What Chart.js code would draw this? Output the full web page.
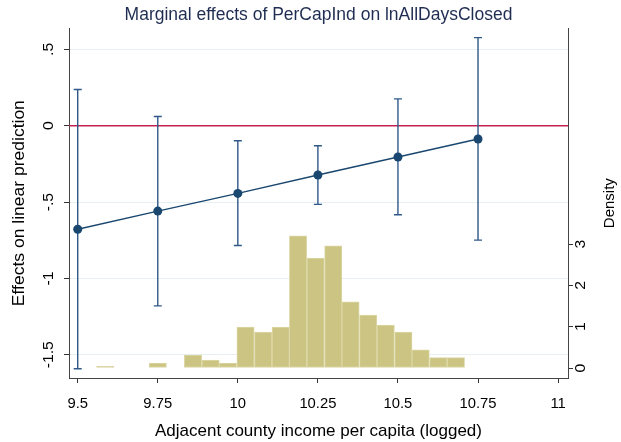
<!DOCTYPE html>
<html>
<head>
<meta charset="utf-8">
<title>Marginal effects of PerCapInd on lnAllDaysClosed</title>
<script src="https://cdn.jsdelivr.net/npm/chart.js@4.4.1/dist/chart.umd.min.js"></script>
<style>
  body { margin: 0; background: #fff; }
</style>
</head>
<body>
<canvas id="graphCanvas" width="621" height="442"></canvas>
<script>
// margins at each income level
var xVals = [9.5, 9.75, 10, 10.25, 10.5, 10.75];
var effects = [-0.678, -0.559, -0.443, -0.323, -0.205, -0.087];
var ciLow = [-1.591, -1.180, -0.784, -0.515, -0.583, -0.749];
var ciHigh = [0.237, 0.060, -0.098, -0.131, 0.176, 0.577];

// histogram of adjacent county income (density, right axis)
var histX = [9.586, 9.750, 9.860, 9.915, 9.969, 10.024, 10.079, 10.134, 10.188,
             10.243, 10.298, 10.352, 10.407, 10.462, 10.517, 10.571, 10.626, 10.681];
var histDensity = [0.04, 0.12, 0.31, 0.19, 0.12, 0.99, 0.87, 0.99, 3.20,
                   2.66, 2.96, 1.60, 1.28, 1.04, 0.87, 0.44, 0.25, 0.25];

var xTicks = [9.5, 9.75, 10, 10.25, 10.5, 10.75, 11];
var xTickLabels = ["9.5", "9.75", "10", "10.25", "10.5", "10.75", "11"];
var yTicks = [0.5, 0, -0.5, -1, -1.5];
var yTickLabels = [".5", "0", "-.5", "-1", "-1.5"];
var densTicks = [0, 1, 2, 3];
var densTickLabels = ["0", "1", "2", "3"];

var fontName = '"Liberation Sans", Arial, Helvetica, sans-serif';
var navy = '#1a476f';

function drawUp(ctx, text, x, y, size, stretch) {
  // vertical text reading bottom to top, like Stata's angle(90)
  ctx.save();
  ctx.translate(x, y);
  ctx.rotate(-Math.PI / 2);
  ctx.scale(stretch, 1);
  ctx.font = size + 'px ' + fontName;
  ctx.textAlign = 'center';
  ctx.textBaseline = 'middle';
  ctx.fillText(text, 0, 0);
  ctx.restore();
}

var stataBits = {
  id: 'stataBits',
  beforeDatasetsDraw: function(chart) {
    var ctx = chart.ctx, a = chart.chartArea;
    var xs = chart.scales.x, ys = chart.scales.y;
    ctx.save();
    // reference line at zero
    var y0 = ys.getPixelForValue(0);
    ctx.strokeStyle = '#c42550';
    ctx.lineWidth = 1.5;
    ctx.beginPath(); ctx.moveTo(a.left, y0); ctx.lineTo(a.right, y0); ctx.stroke();
    // confidence intervals with caps
    ctx.strokeStyle = '#30598a';
    ctx.lineWidth = 1.4;
    for (var ii = 0; ii < xVals.length; ii++) {
      var px = xs.getPixelForValue(xVals[ii]);
      var top = ys.getPixelForValue(ciHigh[ii]);
      var bot = ys.getPixelForValue(ciLow[ii]);
      ctx.beginPath();
      ctx.moveTo(px, top); ctx.lineTo(px, bot);
      ctx.moveTo(px - 4, top); ctx.lineTo(px + 4, top);
      ctx.moveTo(px - 4, bot); ctx.lineTo(px + 4, bot);
      ctx.stroke();
    }
    ctx.restore();
  },
  afterDraw: function(chart) {
    var ctx = chart.ctx, a = chart.chartArea;
    var ys = chart.scales.y, y2 = chart.scales.y2;
    ctx.save();
    ctx.fillStyle = '#000';
    for (var ii = 0; ii < yTicks.length; ii++) {
      drawUp(ctx, yTickLabels[ii], 48.5, ys.getPixelForValue(yTicks[ii]), 15, 1.05);
    }
    for (var jj = 0; jj < densTicks.length; jj++) {
      drawUp(ctx, densTickLabels[jj], 581, y2.getPixelForValue(densTicks[jj]), 15, 1.05);
    }
    drawUp(ctx, 'Effects on linear prediction', 19.5, (a.top + a.bottom) / 2, 17, 1.03);
    drawUp(ctx, 'Density', 609.5, (a.top + a.bottom) / 2, 15, 1.0);
    ctx.restore();
  }
};

var graphTarget = document.getElementById('graphCanvas');

var lineData = [];
for (var ii in xVals) { lineData.push({x: xVals[ii], y: effects[ii]}); }
var histData = [];
for (var jj in histX) { histData.push({x: histX[jj], y: histDensity[jj]}); }

var chart = new Chart(graphTarget, {
  type: 'line',
  data: {
    datasets: [
      {
        type: 'line',
        label: 'Effects',
        data: lineData,
        borderColor: navy,
        borderWidth: 1.4,
        pointRadius: 4.5,
        pointBackgroundColor: navy,
        pointBorderWidth: 0,
        xAxisID: 'x',
        yAxisID: 'y',
        order: 0
      },
      {
        type: 'bar',
        label: 'Density',
        data: histData,
        backgroundColor: '#cbc482',
        borderColor: '#dcd7a6',
        borderWidth: 1,
        borderSkipped: false,
        barPercentage: 1,
        categoryPercentage: 1,
        xAxisID: 'x',
        yAxisID: 'y2',
        order: 1
      }
    ]
  },
  options: {
    responsive: false,
    animation: false,
    devicePixelRatio: 1,
    layout: { padding: 0 },
    plugins: {
      legend: { display: false },
      tooltip: { enabled: false },
      title: {
        display: true,
        fullSize: false,
        text: 'Marginal effects of PerCapInd on lnAllDaysClosed',
        color: '#1f2d52',
        font: { family: fontName, size: 17.5, weight: 'normal' },
        padding: { top: 5, bottom: 2.3 }
      }
    },
    scales: {
      x: {
        type: 'linear',
        position: 'bottom',
        min: 9.4728,
        max: 11.031,
        offset: false,
        afterBuildTicks: function(s) { s.ticks = xTicks.map(function(v) { return {value: v}; }); },
        afterFit: function(s) { s.height = 64; },
        ticks: {
          autoSkip: false,
          maxRotation: 0,
          padding: 12,
          color: '#000',
          font: { family: fontName, size: 14.8 },
          callback: function(v) { var k = xTicks.indexOf(v); return k < 0 ? '' : xTickLabels[k]; }
        },
        grid: { drawOnChartArea: false, offset: false, tickLength: 5, tickColor: '#333', drawTicks: true },
        border: { display: true, color: '#444', width: 1 },
        title: {
          display: true,
          text: 'Adjacent county income per capita (logged)',
          color: '#000',
          font: { family: fontName, size: 17 },
          padding: { top: 0, bottom: 0 }
        }
      },
      y: {
        type: 'linear',
        position: 'left',
        min: -1.652,
        max: 0.638,
        afterBuildTicks: function(s) { s.ticks = yTicks.map(function(v) { return {value: v}; }); },
        afterFit: function(s) { s.width = 69; },
        ticks: { display: false },
        grid: { color: '#e6eff1', lineWidth: 1, tickLength: 5, tickColor: '#333' },
        border: { display: true, color: '#444', width: 1 }
      },
      y2: {
        type: 'linear',
        position: 'right',
        min: -0.242,
        max: 8.226,
        afterBuildTicks: function(s) { s.ticks = densTicks.map(function(v) { return {value: v}; }); },
        afterFit: function(s) { s.width = 53; },
        ticks: { display: false },
        grid: { drawOnChartArea: false, tickLength: 5, tickColor: '#333' },
        border: { display: true, color: '#444', width: 1 }
      }
    }
  },
  plugins: [stataBits]
});
</script>
</body>
</html>
